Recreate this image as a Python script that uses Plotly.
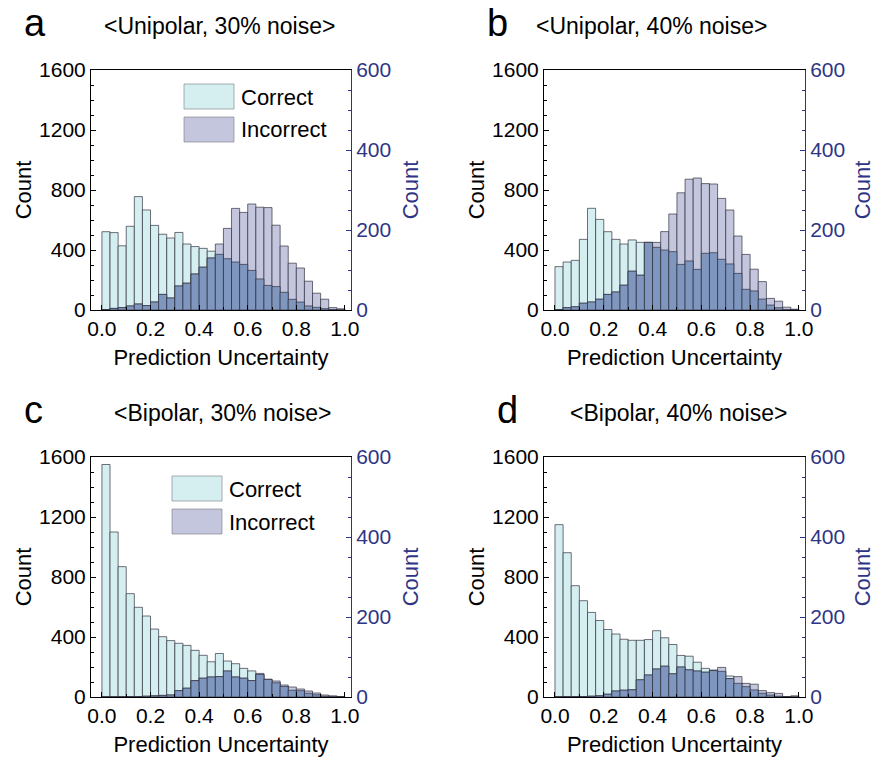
import plotly.graph_objects as go

# Histogram bins: 30 equal bins over prediction uncertainty 0..1
N_BINS = 30
bin_width = 1.0 / N_BINS
bin_centers = [(k + 0.5) * bin_width for k in range(N_BINS)]

# Counts per bin (Correct -> left axis, Incorrect -> right axis)
uni30_correct = [522, 516, 428, 558, 756, 667, 564, 505, 480, 517, 440, 423, 411, 392, 371,
                 342, 320, 304, 264, 207, 164, 156, 118, 71, 53, 27, 18, 9, 2, 0]
uni30_incorrect = [1, 4, 6, 10, 15, 11, 20, 39, 30, 60, 67, 90, 107, 130, 165,
                   204, 254, 244, 265, 257, 256, 212, 160, 117, 105, 72, 42, 27, 6, 3]

uni40_correct = [289, 320, 331, 471, 678, 604, 522, 471, 440, 467, 451, 451, 418, 400, 389,
                 304, 327, 271, 378, 382, 338, 307, 244, 138, 127, 73, 33, 15, 2, 0]
uni40_incorrect = [1, 6, 8, 17, 20, 27, 39, 45, 62, 97, 87, 169, 169, 196, 240,
                   293, 327, 330, 316, 315, 279, 250, 185, 139, 102, 71, 29, 22, 7, 2]

bi30_correct = [1550, 1100, 869, 689, 598, 540, 453, 402, 376, 358, 344, 311, 278, 235, 290,
                240, 222, 191, 174, 150, 118, 95, 70, 45, 42, 25, 15, 5, 2, 0]
bi30_incorrect = [0, 0, 0, 1, 1, 2, 3, 4, 5, 16, 22, 41, 47, 50, 51,
                  65, 50, 47, 41, 59, 44, 40, 30, 25, 20, 15, 10, 5, 3, 1]

bi40_correct = [1149, 962, 742, 642, 564, 510, 450, 420, 385, 378, 378, 383, 442, 395, 350,
                277, 272, 232, 191, 180, 171, 140, 91, 69, 47, 25, 13, 5, 0, 0]
bi40_incorrect = [0, 1, 1, 1, 2, 3, 7, 15, 17, 18, 43, 55, 70, 77, 58,
                  75, 68, 65, 62, 66, 74, 46, 51, 34, 32, 16, 11, 9, 1, 3]

panel_letters = ["a", "b", "c", "d"]
panel_titles = ["<Unipolar, 30% noise>", "<Unipolar, 40% noise>",
                "<Bipolar, 30% noise>", "<Bipolar, 40% noise>"]
legend_labels = ["Correct", "Incorrect"]

LEFT_MAX = 1600
RIGHT_MAX = 600
left_ticks = [0, 400, 800, 1200, 1600]
right_ticks = [0, 200, 400, 600]
x_ticks = [0.0, 0.2, 0.4, 0.6, 0.8, 1.0]

C_CORRECT = "#d5eff1"
C_INCORRECT = "#c4c6dd"
C_OVERLAP = "#7f97bf"
C_EDGE = "rgba(45,45,60,0.85)"
NAVY = "#2e3586"
FONT = "Liberation Sans, Arial, sans-serif"

W, H = 875, 761

# Plot-area rectangles in pixels: (left, right, top, bottom)
boxes = [(91, 351, 70, 310), (544, 805, 70, 310),
         (91, 351, 457, 697), (544, 805, 457, 697)]
# Panel letter (left x, centre y) and title centre x
letter_pos = [(22, 23), (485, 23), (22, 410), (495, 410)]
title_cx = [219, 651, 223, 678]
legend_pos = [(184, 84), (172, 476)]

panels = [(uni30_correct, uni30_incorrect), (uni40_correct, uni40_incorrect),
          (bi30_correct, bi30_incorrect), (bi40_correct, bi40_incorrect)]


def px_x(p):
    return p / W


def px_y(p):
    return 1 - p / H


fig = go.Figure()
layout = dict(width=W, height=H, margin=dict(l=0, r=0, t=0, b=0, autoexpand=False),
              plot_bgcolor="white", paper_bgcolor="white",
              barmode="overlay", showlegend=False,
              font=dict(family=FONT, size=21, color="black"))
annotations = []
shapes = []

for i, ((correct, incorrect), (l, r, t, b)) in enumerate(zip(panels, boxes)):
    n = i + 1
    xa = "x" if n == 1 else f"x{n}"
    ya = f"y{2 * i + 1}" if i else "y"
    ya2 = f"y{2 * i + 2}"
    xkey = "xaxis" if n == 1 else f"xaxis{n}"
    ykey = "yaxis" if i == 0 else f"yaxis{2 * i + 1}"
    y2key = f"yaxis{2 * i + 2}"

    scale = RIGHT_MAX / LEFT_MAX
    overlap = [min(inc, c * scale) for c, inc in zip(correct, incorrect)]

    fig.add_trace(go.Bar(x=bin_centers, y=correct, width=bin_width, xaxis=xa, yaxis=ya,
                         marker=dict(color=C_CORRECT, line=dict(color=C_EDGE, width=0.8)),
                         name=legend_labels[0]))
    fig.add_trace(go.Bar(x=bin_centers, y=incorrect, width=bin_width, xaxis=xa, yaxis=ya2,
                         marker=dict(color=C_INCORRECT, line=dict(color=C_EDGE, width=0.8)),
                         name=legend_labels[1]))
    fig.add_trace(go.Bar(x=bin_centers, y=overlap, width=bin_width, xaxis=xa, yaxis=ya2,
                         marker=dict(color=C_OVERLAP, line=dict(color=C_EDGE, width=0.8)),
                         name="overlap"))

    xdom = [px_x(l), px_x(r)]
    ydom = [px_y(b), px_y(t)]
    layout[xkey] = dict(domain=xdom, anchor=ya, range=[-0.045, 1.025], automargin=False,
                        tickvals=x_ticks, ticktext=[f"{v:.1f}" for v in x_ticks],
                        ticks="inside", ticklen=5, tickwidth=1, tickcolor="black",
                        minor=dict(dtick=0.1, tick0=0, ticks="inside", ticklen=3,
                                   tickcolor="black"),
                        showline=True, linecolor="black", linewidth=1, mirror=True,
                        showgrid=False, zeroline=False,
                        tickfont=dict(size=21), title=dict(text="Prediction Uncertainty",
                                                           font=dict(size=22), standoff=10))
    layout[ykey] = dict(domain=ydom, anchor=xa, range=[0, LEFT_MAX], automargin=False,
                        tickvals=left_ticks, ticks="inside", ticklen=5, tickcolor="black",
                        minor=dict(dtick=100, ticks="inside", ticklen=3, tickcolor="black"),
                        showline=True, linecolor="black", linewidth=1,
                        showgrid=False, zeroline=False, tickfont=dict(size=21),
                        title=dict(text="Count", font=dict(size=22), standoff=1))
    layout[y2key] = dict(domain=ydom, anchor=xa, overlaying=ya, side="right",
                         range=[0, RIGHT_MAX], tickvals=right_ticks, automargin=False,
                         ticks="inside", ticklen=5, tickcolor=NAVY,
                         minor=dict(dtick=50, ticks="inside", ticklen=3, tickcolor=NAVY),
                         showline=True, linecolor=NAVY, linewidth=1,
                         showgrid=False, zeroline=False,
                         tickfont=dict(size=21, color=NAVY),
                         title=dict(text="Count", font=dict(size=22, color=NAVY), standoff=12))

    # panel letter and title
    lx, ly = letter_pos[i]
    annotations.append(dict(text=panel_letters[i], xref="paper", yref="paper",
                            x=px_x(lx), y=px_y(ly), xanchor="left", yanchor="middle",
                            showarrow=False, font=dict(size=38)))
    annotations.append(dict(text=panel_titles[i].replace("<", "&lt;").replace(">", "&gt;"),
                            xref="paper", yref="paper",
                            x=px_x(title_cx[i]), y=px_y(ly + 3), xanchor="center",
                            yanchor="middle", showarrow=False, font=dict(size=23)))

# legend boxes in panels a and c
for (bx, by) in legend_pos:
    for j, (lab, col) in enumerate(zip(legend_labels, [C_CORRECT, C_INCORRECT])):
        y0 = by + j * 33
        shapes.append(dict(type="rect", xref="paper", yref="paper",
                           x0=px_x(bx), x1=px_x(bx + 50), y0=px_y(y0 + 25), y1=px_y(y0),
                           fillcolor=col, line=dict(color="rgba(120,120,130,0.6)", width=1)))
        annotations.append(dict(text=lab, xref="paper", yref="paper",
                                x=px_x(bx + 55), y=px_y(y0 + 13), xanchor="left",
                                yanchor="middle", showarrow=False, font=dict(size=22)))

layout["annotations"] = annotations
layout["shapes"] = shapes
fig.update_layout(**layout)
fig.write_html("out.html")
